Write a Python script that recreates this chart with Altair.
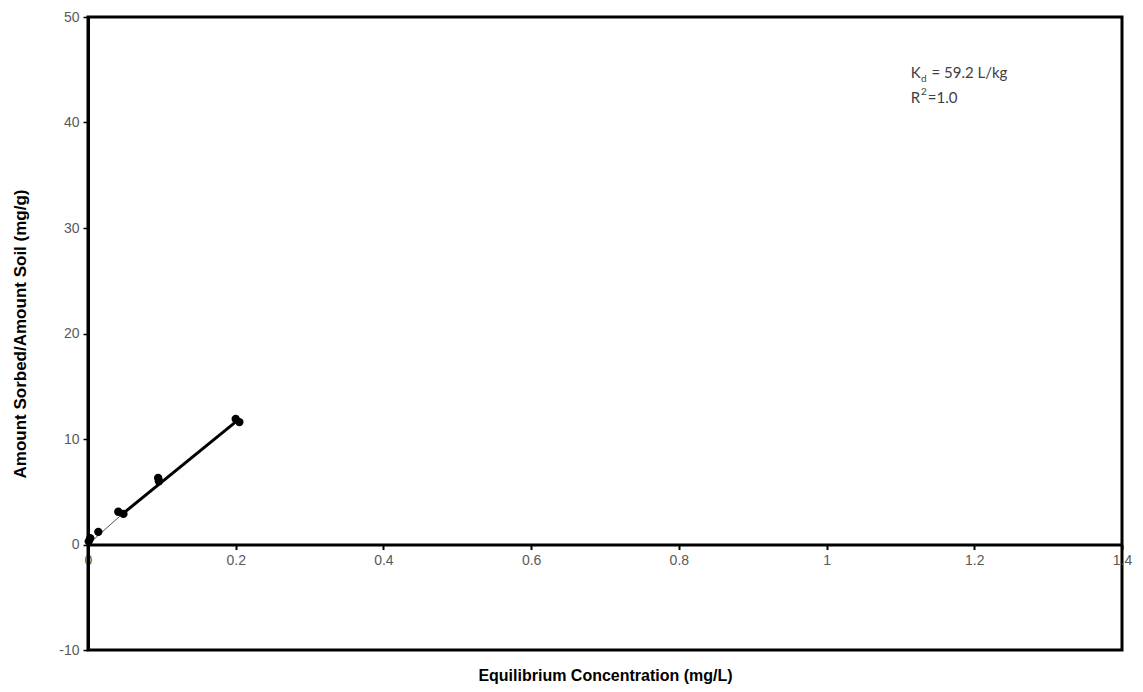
import altair as alt
import pandas as pd

conc = [0.001, 0.003, 0.014, 0.041, 0.048, 0.095, 0.096, 0.200, 0.205]
sorbed = [0.3, 0.6, 1.2, 3.1, 2.9, 6.3, 6.0, 11.9, 11.6]

# Fitted line segments
fit_x = [0.045, 0.205]
fit_y = [2.8, 11.9]
low_x = [0.0, 0.045]
low_y = [0.0, 2.8]

x_ticks = [0, 0.2, 0.4, 0.6, 0.8, 1.0, 1.2, 1.4]
y_ticks = [-10, 0, 10, 20, 30, 40, 50]

pts = pd.DataFrame({"x": conc, "y": sorbed})
fit = pd.DataFrame({"x": fit_x, "y": fit_y})
low = pd.DataFrame({"x": low_x, "y": low_y})

ann = pd.DataFrame({
    "x": [1.114, 1.128, 1.142, 1.114, 1.128, 1.137],
    "y": [44.2, 43.8, 44.2, 41.85, 42.6, 41.85],
    "t": ["K", "d", "= 59.2 L/kg", "R", "2", "=1.0"],
    "s": [15, 10, 15, 15, 10, 15],
})

xscale = alt.Scale(domain=[0, 1.4], nice=False, zero=False)
yscale = alt.Scale(domain=[-10, 50], nice=False, zero=False)

xaxis = alt.Axis(
    values=x_ticks, format="~g", orient="bottom", offset=-105.5,
    domainColor="black", domainWidth=3, tickColor="black", tickWidth=2, tickSize=5,
    labelColor="#595959", labelFontSize=14, labelFont="Liberation Sans", labelPadding=4,
    labelFlush=False, labelOverlap=False, grid=False,
    title="Equilibrium Concentration (mg/L)", titleFont="Liberation Sans",
    titleFontSize=16, titleFontWeight="bold", titleColor="black",
    titleY=131, titleBaseline="middle",
)
yaxis = alt.Axis(
    values=y_ticks, orient="left",
    labelExpr="replace(datum.label, '\u2212', '-')",
    domainColor="black", domainWidth=3, tickColor="black", tickWidth=1.5, tickSize=5,
    labelColor="#595959", labelFontSize=14, labelFont="Liberation Sans", labelPadding=4,
    grid=False,
    title="Amount Sorbed/Amount Soil (mg/g)", titleFont="Liberation Sans",
    titleFontSize=17, titleFontWeight="bold", titleColor="black",
    titleX=-68, titleY=316.5, titleAngle=270, titleAlign="center", titleBaseline="middle",
)

base_x = alt.X("x:Q", scale=xscale, axis=xaxis)
base_y = alt.Y("y:Q", scale=yscale, axis=yaxis)

low_line = alt.Chart(low).mark_line(color="#505050", strokeWidth=1).encode(x=base_x, y=base_y)
fit_line = alt.Chart(fit).mark_line(color="black", strokeWidth=3).encode(x=base_x, y=base_y)
points = alt.Chart(pts).mark_circle(color="black", opacity=1, size=70).encode(x=base_x, y=base_y)
texts = alt.Chart(ann).mark_text(align="left", baseline="alphabetic", font="Lato", color="#404040").encode(
    x=alt.X("x:Q", scale=xscale),
    y=alt.Y("y:Q", scale=yscale),
    text="t:N",
    size=alt.Size("s:Q", scale=None, legend=None),
)

chart = alt.layer(low_line, fit_line, points, texts).properties(
    width=1034, height=633,
    background="white",
    autosize=alt.AutoSizeParams(type="none"),
    padding={"left": 80, "top": 9, "right": 13, "bottom": 34},
).configure_view(stroke="black", strokeWidth=3)

chart.save("out.html", embed_options={"renderer": "svg", "actions": False})
